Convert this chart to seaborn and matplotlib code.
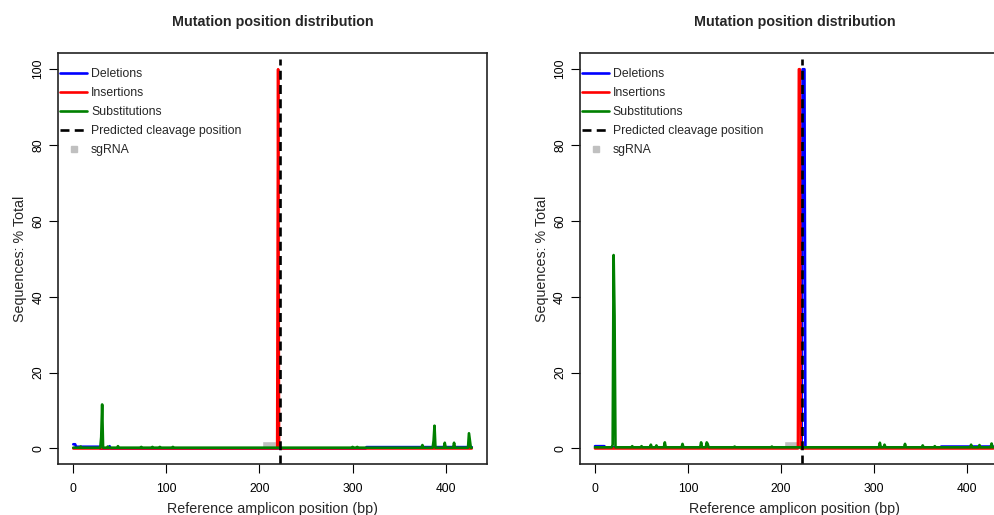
import numpy as np
import pandas as pd
import seaborn as sns
import matplotlib.pyplot as plt
from matplotlib.lines import Line2D

sns.set_style("white")
plt.rcParams['font.family'] = ['Liberation Sans', 'DejaVu Sans']

# amplicon and guide
amplicon_len = 429
cut_site = 222
sgrna_start = 203
sgrna_end = 218
sgrna_height = 2

# runs are (from, to, level), peaks are position -> % of reads
left_del_runs = [(0, 2, 1.1), (3, 28, 0.45), (315, 428, 0.35)]
left_del_peaks = {39: 0.6}
left_ins_runs = []
left_ins_peaks = {220: 100}
left_sub_runs = [(0, 428, 0.2)]
left_sub_peaks = {8: 0.5, 30: 3.0, 31: 11.6, 37: 0.5, 48: 0.6, 73: 0.4, 85: 0.4,
                  93: 0.4, 107: 0.4, 300: 0.4, 305: 0.4, 375: 0.9, 387: 2.0,
                  388: 6.0, 399: 1.5, 409: 1.5, 425: 4.0, 426: 2.0}

right_del_runs = [(0, 10, 0.6), (11, 371, 0.3), (372, 428, 0.5)]
right_del_peaks = {223: 100, 224: 100, 225: 100}
right_ins_runs = []
right_ins_peaks = {219: 100, 220: 100}
right_sub_runs = [(0, 428, 0.3)]
right_sub_peaks = {19: 1.0, 20: 51, 21: 35, 40: 0.6, 50: 0.6, 60: 1.0, 66: 0.8,
                   75: 1.6, 94: 1.2, 114: 1.6, 120: 1.6, 121: 1.2, 150: 0.5,
                   190: 0.5, 306: 1.5, 311: 1.0, 333: 1.2, 352: 0.8, 365: 0.6,
                   404: 1.0, 413: 0.9, 426: 1.3}

colors = {"Deletions": "#0000FF", "Insertions": "#FF0000", "Substitutions": "#008000"}


def profile(runs, peaks):
    y = np.zeros(amplicon_len)
    for a, b, v in runs:
        y[a:b + 1] = v
    for p, v in peaks.items():
        y[p] = v
    return y


panels = [
    {"Deletions": (left_del_runs, left_del_peaks),
     "Insertions": (left_ins_runs, left_ins_peaks),
     "Substitutions": (left_sub_runs, left_sub_peaks)},
    {"Deletions": (right_del_runs, right_del_peaks),
     "Insertions": (right_ins_runs, right_ins_peaks),
     "Substitutions": (right_sub_runs, right_sub_peaks)},
]

W, H = 995, 515
lw = 1.9
fig = plt.figure(figsize=(W / 100, H / 100), dpi=100)
ax_left = fig.add_axes([58.3 / W, 1 - 464 / H, 429 / W, (464 - 53.3) / H])
ax_right = fig.add_axes([580 / W, 1 - 464 / H, 429 / W, (464 - 53.3) / H])

for ax, panel in zip([ax_left, ax_right], panels):
    pos = np.arange(amplicon_len)
    for name in ["Deletions", "Insertions", "Substitutions"]:
        runs, peaks = panel[name]
        df = pd.DataFrame({"position": pos, "pct": profile(runs, peaks)})
        sns.lineplot(data=df, x="position", y="pct", ax=ax, color=colors[name],
                     linewidth=lw, label=name, estimator=None)

    ax.axvline(cut_site, ymax=0.985, color="black", linewidth=lw,
               dashes=(3.4, 2.0))
    ax.bar(sgrna_start, sgrna_height, width=sgrna_end - sgrna_start, align="edge",
           color="#C0C0C0", zorder=1)

    ax.set_xlim(-16.1, 444.7)
    ax.set_ylim(-4.1, 104.2)
    ax.set_xticks([0, 100, 200, 300, 400])
    ax.set_yticks([0, 20, 40, 60, 80, 100])
    ax.tick_params(axis="both", direction="out", length=6.5, width=0.8,
                   labelsize=8.7, colors="black", left=True, bottom=True)
    ax.tick_params(axis="x", pad=7.5)
    ax.tick_params(axis="y", pad=3.5)
    for lab in ax.get_yticklabels():
        lab.set_rotation(90)
        lab.set_va("center")
    for s in ax.spines.values():
        s.set_color("#222222")
        s.set_linewidth(1.2)

    ax.set_title("Mutation position distribution", fontsize=10.3,
                 fontweight="bold", pad=20)
    ax.set_xlabel("Reference amplicon position (bp)", fontsize=10.3, labelpad=4.5)
    ax.set_ylabel("Sequences: % Total", fontsize=10.3, labelpad=4)

    handles = [Line2D([], [], color=colors[n], lw=lw) for n in colors]
    handles.append(Line2D([], [], color="black", lw=lw, dashes=(3.4, 2.0)))
    handles.append(Line2D([], [], color="#C0C0C0", marker="s", markersize=5,
                          linestyle="none"))
    labels = list(colors) + ["Predicted cleavage position", "sgRNA"]
    ax.legend(handles, labels, loc="upper left", frameon=False, fontsize=8.8,
              handlelength=2.2, handletextpad=0.3, labelspacing=0.58,
              borderaxespad=0.0, borderpad=0.35, bbox_to_anchor=(-0.005, 0.975))

fig.savefig("out.png", dpi=100)
